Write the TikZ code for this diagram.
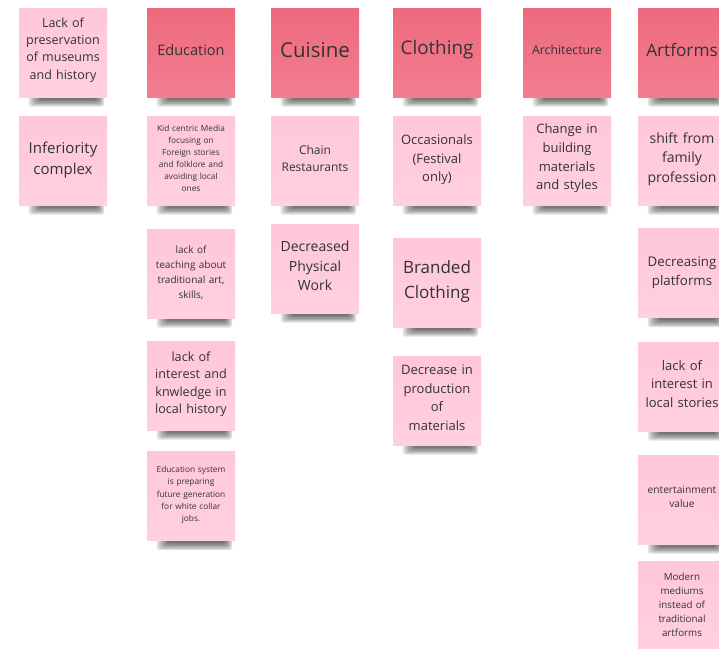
\documentclass[tikz,border=0pt]{standalone}
\usepackage{fontspec}
\setmainfont{Open Sans}
\usetikzlibrary{backgrounds,calc}
\definecolor{hdrtop}{HTML}{EE6A7E}
\definecolor{hdrbot}{HTML}{F27D8F}
\definecolor{notetop}{HTML}{FFC7D9}
\definecolor{notebot}{HTML}{FFD0E0}
\definecolor{ink}{HTML}{333333}
\tikzset{
  pad/.store in=\padamt, pad=5pt,
  sticky/.style={minimum width=88pt, minimum height=89pt, inner sep=0pt,
    text width=82pt, align=center, text=ink,
    execute at end node={\par\nointerlineskip\vbox to \padamt{}}},
  header/.style={sticky, top color=hdrtop, bottom color=hdrbot},
  note/.style={sticky, top color=notetop, bottom color=notebot},
  shadelayer/.style={fill=black, fill opacity=0.12, rounded corners=3pt},
  fs/.style 2 args={font=\fontsize{#1}{#2}\selectfont}
}
\begin{document}
\begin{tikzpicture}[x=1pt,y=-1pt]
\useasboundingbox (0,0) rectangle (719,648);
% column 0
\node[note, fs={12.5}{17.2}] (pres) at (63,52.5) {Lack of\\preservation\\of museums\\and history};
\node[note, fs={15}{21}, pad=1pt] (infer) at (63,160.5) {Inferiority\\complex};
% column 1
\node[header, fs={14.5}{18}] (edu) at (191,52.5) {Education};
\node[note, fs={8.3}{12}] (kid) at (191,160.5) {Kid centric Media\\focusing on\\Foreign stories\\and folklore and\\avoiding local\\ones};
\node[note, fs={10}{15}, pad=1pt] (teach) at (191,273.5) {lack of\\teaching about\\traditional art,\\skills,};
\node[note, fs={12.6}{17.5}, pad=3pt] (hist) at (191,385.5) {lack of\\interest and\\knwledge in\\local history};
\node[note, fs={8.3}{12.2}, pad=2pt] (sys) at (191,496) {Education system\\is preparing\\future generation\\for white collar\\jobs.};
% column 2
\node[header, fs={20.5}{24}] (cui) at (315,52.5) {Cuisine};
\node[note, fs={12}{17}] (chain) at (315,160.5) {Chain\\Restaurants};
\node[note, fs={14}{19.3}] (phys) at (315,268.5) {Decreased\\Physical\\Work};
% column 3
\node[header, fs={18.8}{22}] (clo) at (437,52.5) {Clothing};
\node[note, fs={13}{18.5}, pad=1pt] (occ) at (437,160.5) {Occasionals\\(Festival\\only)};
\node[note, fs={17}{25}, pad=1pt] (brand) at (437,282.5) {Branded\\Clothing};
\node[note, fs={13}{18.5}] (prod) at (437,400.5) {Decrease in\\production\\of\\materials};
% column 4
\node[header, fs={12.3}{15}] (arch) at (567,52.5) {Architecture};
\node[note, fs={13}{18.7}, pad=4pt] (build) at (567,160.5) {Change in\\building\\materials\\and styles};
% column 5
\node[header, fs={17.2}{22}] (art) at (682,52.5) {Artforms};
\node[note, fs={14}{19.5}, pad=3pt] (shift) at (682,160.5) {shift from\\family\\profession};
\node[note, fs={13.3}{18.5}, pad=1pt] (plat) at (682,273) {Decreasing\\platforms};
\node[note, fs={13}{18.3}] (stor) at (682,386.5) {lack of\\interest in\\local stories};
\node[note, fs={10.2}{14.5}] (ent) at (682,499.5) {entertainment\\value};
\node[note, fs={9.8}{14}, pad=1pt] (mod) at (682,605.5) {Modern\\mediums\\instead of\\traditional\\artforms};
\begin{scope}[on background layer]
\fill[white] (0,0) rectangle (719,648);
\foreach \n in {pres,infer,edu,kid,teach,hist,sys,cui,chain,phys,clo,occ,brand,prod,arch,build,art,shift,plat,stor,ent,mod}
  \foreach \k in {0,...,5}
    \path[shadelayer] ($(\n.south west)+(10+2.2*\k,-2)$) rectangle ($(\n.south east)+(-3-1.4*\k,9.5-1.4*\k)$);
\end{scope}
\end{tikzpicture}
\end{document}
